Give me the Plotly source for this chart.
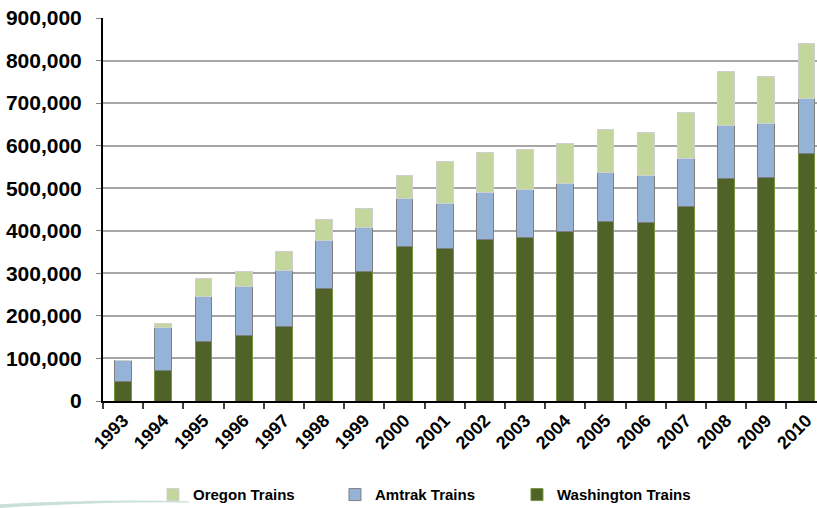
import plotly.graph_objects as go

years = ["1993", "1994", "1995", "1996", "1997", "1998", "1999", "2000", "2001",
         "2002", "2003", "2004", "2005", "2006", "2007", "2008", "2009", "2010"]
washington = [47000, 72000, 140000, 155000, 176000, 265000, 305000, 364000, 359000,
              380000, 385000, 398000, 422000, 419000, 457000, 522000, 525000, 581000]
amtrak = [49000, 100000, 106000, 113000, 131000, 112000, 103000, 113000, 106000,
          111000, 111000, 113000, 115000, 111000, 114000, 126000, 126000, 131000]
oregon = [0, 10000, 42000, 37000, 45000, 49000, 45000, 53000, 97000,
          94000, 94000, 93000, 102000, 101000, 106000, 127000, 112000, 128000]
y_ticks = [0, 100000, 200000, 300000, 400000, 500000, 600000, 700000, 800000, 900000]

fig = go.Figure()
fig.add_trace(go.Bar(x=years, y=washington, name="Washington Trains",
                     marker=dict(color="#4F6228", line=dict(color="#77933C", width=1))))
fig.add_trace(go.Bar(x=years, y=amtrak, name="Amtrak Trains",
                     marker=dict(color="#95B3D7", line=dict(color="#7F7F7F", width=1))))
fig.add_trace(go.Bar(x=years, y=oregon, name="Oregon Trains",
                     marker=dict(color="#C3D69B", line=dict(color="#D0D0D0", width=1))))

fig.update_layout(
    width=817, height=508,
    barmode="stack", bargap=0.58,
    plot_bgcolor="white", paper_bgcolor="white",
    margin=dict(l=103, r=0, t=18, b=107, autoexpand=False),
    font=dict(family="Liberation Sans, Arial, sans-serif", color="black"),
    showlegend=True,
    legend=dict(orientation="h", traceorder="reversed", x=0.07, xanchor="left",
                y=-0.245, yanchor="middle", font=dict(size=15, weight="bold"),
                itemwidth=30, entrywidth=137, bgcolor="rgba(0,0,0,0)"),
    xaxis=dict(type="category", range=[-0.5, 17.26], tickson="boundaries",
               ticks="outside", ticklen=6, tickcolor="#404040", tickwidth=1.5,
               showline=True, linecolor="black", linewidth=2, automargin=False,
               tickangle=-45, tickfont=dict(size=18, weight="bold"),
               ticklabeloverflow="allow"),
    yaxis=dict(range=[0, 900000], tickvals=y_ticks, tickformat=",d",
               showgrid=True, gridcolor="#A6A6A6", gridwidth=1.5,
               showline=True, linecolor="black", linewidth=2, automargin=False,
               ticks="outside", ticklen=5, tickcolor="#808080", ticklabelstandoff=10,
               tickfont=dict(size=21, weight="bold"), zeroline=False,
               ticklabeloverflow="allow"),
)

fig.add_shape(type="path", xref="paper", yref="paper",
              path="M -0.15 -0.27 Q 0.0 -0.255 0.12 -0.262 L 0.12 -0.265 Q 0.0 -0.262 -0.15 -0.28 Z",
              fillcolor="#C8E0D6", line=dict(width=0), layer="below")

fig.write_html("out.html", config={"displayModeBar": False},
               post_script="document.body.style.margin='0';document.body.style.overflow='hidden';")
